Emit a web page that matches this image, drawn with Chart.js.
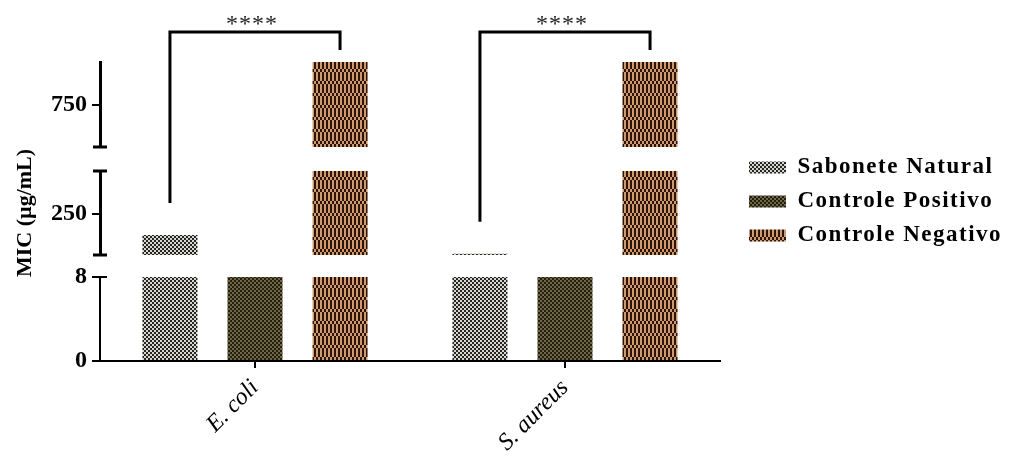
<!DOCTYPE html>
<html>
<head>
<meta charset="utf-8">
<script src="https://cdn.jsdelivr.net/npm/chart.js@4.4.0/dist/chart.umd.min.js"></script>
<style>
html,body{margin:0;padding:0;background:#fff;}
#wrap{width:1015px;height:456px;}
</style>
</head>
<body>
<div id="wrap"><canvas id="c" width="1015" height="456"></canvas></div>
<script>
// ---------- data ----------
const categories = ['E. coli', 'S. aureus'];
const seriesNames = ['Sabonete Natural', 'Controle Positivo', 'Controle Negativo'];
const sabonete = [125, 15.6];
const positivo = [8, 8];
const negativo = [1000, 1000];
const segmentRanges = [[0, 8], [8, 500], [500, 1000]];   // broken y axis pieces
const yTicksBottom = [0, 8];
const yTicksMid = [250];
const yTicksTop = [750];
const significance = ['****', '****'];
const yTitle = 'MIC (µg/mL)';

// ---------- patterns ----------
function makePattern(w, h, draw) {
  const cv = document.createElement('canvas');
  cv.width = w; cv.height = h;
  const g = cv.getContext('2d');
  draw(g);
  return g.createPattern(cv, 'repeat');
}
const patS = makePattern(4, 4, g => {
  g.fillStyle = '#262626'; g.fillRect(0, 0, 4, 4);
  g.fillStyle = '#d6d6cc'; g.fillRect(0, 0, 2, 2); g.fillRect(2, 2, 2, 2);
});
const patP = makePattern(4, 4, g => {
  g.fillStyle = '#221e10'; g.fillRect(0, 0, 4, 4);
  g.fillStyle = '#6f6646'; g.fillRect(0, 0, 2, 2); g.fillRect(2, 2, 2, 2);
});
const patN = makePattern(4, 12, g => {
  g.fillStyle = '#2e1406'; g.fillRect(0, 0, 4, 12);
  g.fillStyle = '#cf9a70';
  g.fillRect(0, 0, 2, 9); g.fillRect(2, 9, 2, 3);
});
const patterns = [patS, patP, patN];
const seriesValues = [sabonete, positivo, negativo];
const segIds = ['yBot', 'yMid', 'yTop'];

// ---------- datasets: one per series per axis segment ----------
const datasets = [];
segmentRanges.forEach((rng, si) => {
  seriesValues.forEach((vals, k) => {
    datasets.push({
      label: seriesNames[k],
      data: vals.map(v => (v > rng[0]) ? [rng[0], Math.min(v, rng[1])] : null),
      yAxisID: segIds[si],
      stack: 's' + k,
      backgroundColor: patterns[k],
      borderWidth: 0,
      categoryPercentage: 0.823,
      barPercentage: 0.647
    });
  });
});

const SERIF = "'Liberation Serif', 'Times New Roman', serif";

function topPixel(chart, v) {
  let y = null;
  segmentRanges.forEach((rng, si) => {
    if (v > rng[0]) y = chart.scales[segIds[si]].getPixelForValue(Math.min(v, rng[1]));
  });
  return y;
}

// legend: allow it its natural width (layout otherwise caps side boxes), slightly spaced text
const LEGEND_W = 277;
const legendFit = {
  id: 'legendFit',
  beforeLayout(chart) {
    const lg = chart.legend;
    if (lg && !lg.__patched) {
      const origUpdate = lg.update;
      lg.update = function (maxW, maxH, margins) {
        origUpdate.call(this, 400, maxH, margins);
        this.width = LEGEND_W;
      };
      const origDraw = lg.draw;
      lg.draw = function (area) {
        const c = this.ctx;
        const prev = c.letterSpacing;
        c.letterSpacing = '1.5px';
        origDraw.call(this, area);
        c.letterSpacing = prev || '0px';
      };
      lg.__patched = true;
    }
  }
};

// axis break caps
const axisCaps = {
  id: 'axisCaps',
  afterDraw(chart) {
    const c = chart.ctx;
    const yb = chart.scales.yBot, ym = chart.scales.yMid, yt = chart.scales.yTop;
    const x = yb.right;
    c.save();
    c.strokeStyle = '#000';
    const cap = (y, w) => { c.lineWidth = w; c.beginPath(); c.moveTo(x - 7, y); c.lineTo(x + 7, y); c.stroke(); };
    cap(yb.getPixelForValue(segmentRanges[0][1]), 2);
    cap(ym.getPixelForValue(segmentRanges[1][0]), 3);
    cap(ym.getPixelForValue(segmentRanges[1][1]), 3);
    cap(yt.getPixelForValue(segmentRanges[2][0]), 3);
    c.restore();
  }
};

// significance brackets
const brackets = {
  id: 'brackets',
  afterDatasetsDraw(chart) {
    const c = chart.ctx;
    const mS = chart.getDatasetMeta(0), mN = chart.getDatasetMeta(2);
    c.save();
    c.strokeStyle = '#000';
    c.lineWidth = 3;
    c.lineCap = 'butt';
    categories.forEach((cat, i) => {
      const xS = mS.data[i].x, xN = mN.data[i].x;
      const yS = topPixel(chart, sabonete[i]);
      const yN = topPixel(chart, negativo[i]);
      const yTopB = yN - 30;
      c.beginPath();
      c.moveTo(xS, yS - 32);
      c.lineTo(xS, yTopB);
      c.lineTo(xN, yTopB);
      c.lineTo(xN, yN - 12);
      c.stroke();
      c.fillStyle = '#222';
      c.font = '24px ' + SERIF;
      c.letterSpacing = '1px';
      c.textAlign = 'center';
      c.textBaseline = 'alphabetic';
      c.fillText(significance[i], (xS + xN) / 2 - 3, yTopB - 1);
    });
    c.restore();
  }
};

const tickFont = { family: SERIF, size: 24, weight: 'bold' };
function segAxis(id, rng, ticksArr, weight, stackWeight, borderW, extra) {
  return Object.assign({
    type: 'linear', position: 'left', stack: 'y', stackWeight: stackWeight, weight: weight,
    stacked: false, min: rng[0], max: rng[1], offset: false,
    afterBuildTicks: s => { s.ticks = ticksArr.map(v => ({ value: v })); },
    afterFit: s => { s.width = 94; },
    grid: { display: true, drawOnChartArea: false, drawTicks: true, tickLength: 8, color: '#000', lineWidth: 2 },
    border: { display: true, color: '#000', width: borderW },
    ticks: { color: '#000', font: tickFont, padding: 5 }
  }, extra || {});
}
function gapAxis(weight, stackWeight) {
  return {
    type: 'linear', position: 'left', stack: 'y', stackWeight: stackWeight, weight: weight,
    display: false, min: 0, max: 1,
    afterFit: s => { s.width = 94; }
  };
}

new Chart(document.getElementById('c'), {
  type: 'bar',
  data: { labels: categories, datasets: datasets },
  plugins: [legendFit, axisCaps, brackets],
  options: {
    responsive: false,
    animation: false,
    devicePixelRatio: 1,
    layout: { padding: { top: 62, left: 6, right: 0, bottom: 0 } },
    scales: {
      x: {
        type: 'category',
        offset: true,
        afterFit: s => { s.height = 95; },
        grid: { display: true, drawOnChartArea: false, offset: false, tickLength: 7, color: '#000', lineWidth: 2 },
        border: { display: true, color: '#000', width: 2 },
        ticks: { color: '#000', font: { family: SERIF, size: 24, style: 'italic' }, minRotation: 45, maxRotation: 45, padding: 6 }
      },
      yBot: segAxis('yBot', segmentRanges[0], yTicksBottom, 1, 84, 2),
      yGap1: gapAxis(2, 22),
      yMid: segAxis('yMid', segmentRanges[1], yTicksMid, 3, 84, 3, {
        title: { display: true, text: yTitle, color: '#000', font: { family: SERIF, size: 22, weight: 'bold' }, padding: { top: 6, bottom: 2 } }
      }),
      yGap2: gapAxis(4, 24),
      yTop: segAxis('yTop', segmentRanges[2], yTicksTop, 5, 85, 3),
      yR: { type: 'linear', position: 'right', display: false, min: 0, max: 1, afterFit: s => { s.width = 18; } }
    },
    plugins: {
      tooltip: { enabled: false },
      legend: {
        display: true,
        position: 'right',
        align: 'start',
        fullSize: false,
        title: { display: true, text: '', font: { size: 10, lineHeight: 1 }, padding: { top: 73, bottom: 0 } },
        labels: {
          boxWidth: 37, boxHeight: 12, padding: 11, color: '#000',
          font: { family: SERIF, size: 23, weight: 'bold' },
          filter: item => item.datasetIndex < 3
        }
      }
    }
  }
});
</script>
</body>
</html>
